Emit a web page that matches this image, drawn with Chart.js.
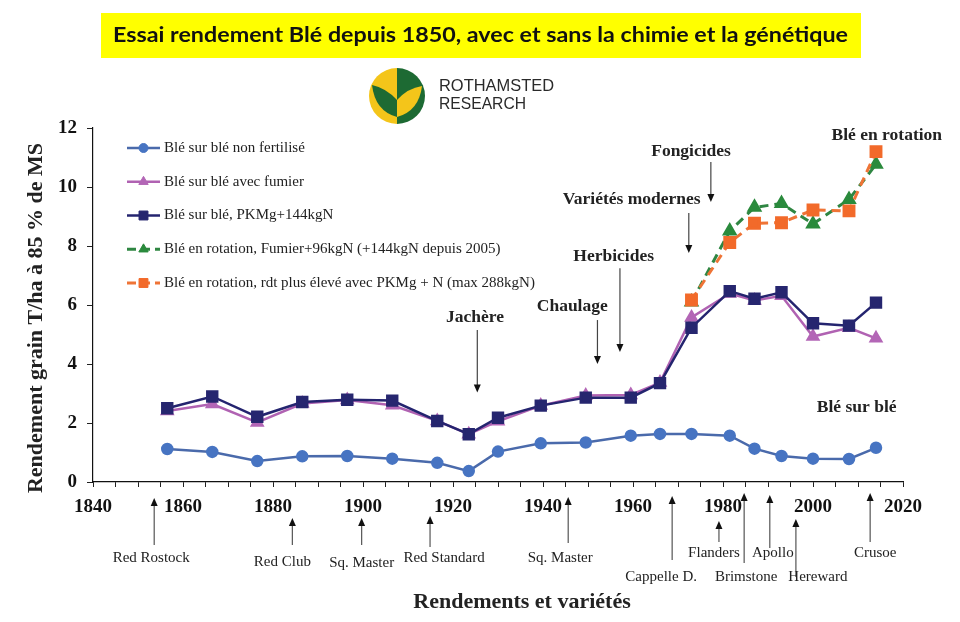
<!DOCTYPE html>
<html><head><meta charset="utf-8">
<script src="https://cdn.jsdelivr.net/npm/chart.js@4.4.1/dist/chart.umd.min.js"></script>
<style>html,body{margin:0;padding:0;background:#fff;}#wrap{width:960px;height:622px;position:relative;}</style>
</head><body><div id="wrap"><canvas id="c" width="960" height="622"></canvas></div>
<script>
// ---------- DATA ----------
const titleText = 'Essai rendement Blé depuis 1850, avec et sans la chimie et la génétique';
const seriesNames = [
  'Blé sur blé non fertilisé',
  'Blé sur blé avec fumier',
  'Blé sur blé, PKMg+144kgN',
  'Blé en rotation, Fumier+96kgN (+144kgN depuis 2005)',
  'Blé en rotation, rdt plus élevé avec PKMg + N (max 288kgN)'
];
const yearsBB = [1856.5,1866.5,1876.5,1886.5,1896.5,1906.5,1916.5,1923.5,1930,1939.5,1949.5,1959.5,1966,1973,1981.5,1987,1993,2000,2008,2014];
const nonFertilise = [1.12,1.02,0.71,0.87,0.88,0.79,0.65,0.37,1.03,1.31,1.34,1.57,1.63,1.63,1.57,1.13,0.88,0.79,0.78,1.16];
const avecFumier   = [2.41,2.64,2.02,2.66,2.78,2.60,2.07,1.62,2.06,2.59,2.93,2.95,3.37,5.58,6.39,6.15,6.31,4.93,5.23,4.87];
const pkmgN        = [2.50,2.90,2.21,2.71,2.79,2.76,2.07,1.62,2.18,2.59,2.86,2.86,3.35,5.23,6.47,6.21,6.43,5.38,5.30,6.08];
const yearsRot = [1973,1981.5,1987,1993,2000,2008,2014];
const rotFumierN = [6.10,8.51,9.31,9.44,8.75,9.58,10.77];
const rotPKMgN   = [6.17,8.12,8.77,8.79,9.22,9.19,11.20];
const xMin = 1840, xMax = 2020, xMajor = 20, xMinor = 5;
const yMin = 0, yMax = 12, yStep = 2;
const xTitle = 'Rendements et variétés';
const yTitle = 'Rendement grain T/ha à 85 % de MS';
// annotations with down arrows: label, year of arrow, arrow start value, arrow end value
const eventNames  = ['Jachère','Chaulage','Herbicides','Variétés modernes','Fongicides'];
const eventYears  = [1925.4,1952.1,1957.1,1972.4,1977.3];
const eventFrom   = [5.15,5.49,7.25,9.12,10.85];
const eventTo     = [3.03,4.00,4.41,7.76,9.49];
// text positions for the events (year, value)
const eventLabelYear = [1924.9,1946.5,1955.7,1959.7,1972.9];
const eventLabelVal  = [5.58,5.95,7.64,9.56,11.20];
const groupNames = ['Blé en rotation','Blé sur blé'];
const groupYear  = [2016.4,2009.7];
const groupVal   = [11.76,2.52];
// varieties (up arrows below the axis)
const varietyNames = ['Red Rostock','Red Club','Sq. Master','Red Standard','Sq. Master','Cappelle D.','Flanders','Brimstone','Apollo','Hereward','Crusoe'];
const varietyYears = [1853.6,1884.3,1899.7,1914.9,1945.6,1968.7,1979.1,1984.7,1990.4,1996.2,2012.7];
// layout of variety arrows in pixels: tip y, base y, label dx, label y
const varietyLayout = [
  [498,545,-3,558],[518,545,-10,562],[518,545,0,563],[516,547,14,558],[497,543,-8,558],
  [496,560,-11,577],[521,542,-5,553],[493,563,2,577],[495,548,3,553],[519,577,22,577],[493,542,5,553]
];

// ---------- STYLES ----------
const SERIF = '"Liberation Serif","Times New Roman",serif';
const colors = {
  blue:'#4a6aab', blueP:'#4774c2',
  pink:'#b062b2', pinkP:'#b366b6',
  navy:'#24246f', navyP:'#26266f',
  green:'#2f8642', greenP:'#2a8a3c',
  orange:'#ef7436', orangeP:'#f26a2a'
};
const mk = (xs, ys) => xs.map((x,i)=>({x, y: ys[i]}));

const datasets = [
  {label:seriesNames[0], data:mk(yearsBB,nonFertilise), borderColor:colors.blue, backgroundColor:colors.blueP,
   pointBackgroundColor:colors.blueP, pointBorderColor:colors.blueP, pointStyle:'circle', pointRadius:5, borderWidth:2.5, order:5},
  {label:seriesNames[1], data:mk(yearsBB,avecFumier), borderColor:colors.pink, backgroundColor:colors.pinkP,
   pointBackgroundColor:colors.pinkP, pointBorderColor:colors.pinkP, pointStyle:'triangle', pointRadius:6, borderWidth:2.5, order:4},
  {label:seriesNames[2], data:mk(yearsBB,pkmgN), borderColor:colors.navy, backgroundColor:colors.navyP,
   pointBackgroundColor:colors.navyP, pointBorderColor:colors.navyP, pointStyle:'rect', pointRadius:7, borderWidth:2.5, order:3},
  {label:seriesNames[3], data:mk(yearsRot,rotFumierN), borderColor:colors.green, backgroundColor:colors.greenP,
   pointBackgroundColor:colors.greenP, pointBorderColor:colors.greenP, pointStyle:'triangle', pointRadius:6, borderWidth:3, borderDash:[9,6], order:2},
  {label:seriesNames[4], data:mk(yearsRot,rotPKMgN), borderColor:colors.orange, backgroundColor:colors.orangeP,
   pointBackgroundColor:colors.orangeP, pointBorderColor:colors.orangeP, pointStyle:'rect', pointRadius:7, borderWidth:3, borderDash:[9,6], order:1}
];

function arrow(ctx, x, y1, y2, lineColor){
  const dir = y2 > y1 ? 1 : -1;
  const hh = 8, hw = 3.5;
  ctx.save();
  ctx.strokeStyle = lineColor || '#555';
  ctx.lineWidth = 1.2;
  ctx.beginPath(); ctx.moveTo(x, y1); ctx.lineTo(x, y2 - dir*hh + dir*1); ctx.stroke();
  ctx.fillStyle = '#111';
  ctx.beginPath(); ctx.moveTo(x, y2); ctx.lineTo(x-hw, y2-dir*hh); ctx.lineTo(x+hw, y2-dir*hh); ctx.closePath(); ctx.fill();
  ctx.restore();
}

function drawLogo(ctx){
  const cx = 397, cy = 96, r = 28;
  const Y = '#f4c51a', G = '#1d6a33';
  ctx.save();
  ctx.beginPath(); ctx.arc(cx,cy,r,Math.PI/2,Math.PI*1.5); ctx.closePath(); ctx.fillStyle=Y; ctx.fill();
  ctx.beginPath(); ctx.arc(cx,cy,r,-Math.PI/2,Math.PI/2); ctx.closePath(); ctx.fillStyle=G; ctx.fill();
  ctx.fillStyle = G;
  ctx.beginPath(); ctx.moveTo(cx-25,cy-11);
  ctx.quadraticCurveTo(cx-22,cy+15,cx,cy+21); ctx.lineTo(cx,cy+4);
  ctx.quadraticCurveTo(cx-11,cy-8,cx-25,cy-11); ctx.fill();
  ctx.fillStyle = Y;
  ctx.beginPath(); ctx.moveTo(cx+25,cy-10);
  ctx.quadraticCurveTo(cx+22,cy+15,cx,cy+21); ctx.lineTo(cx,cy+4);
  ctx.quadraticCurveTo(cx+11,cy-8,cx+25,cy-10); ctx.fill();
  ctx.fillStyle = '#2a2a2a';
  ctx.font = '17px "Liberation Sans",Arial,sans-serif';
  ctx.textBaseline = 'middle'; ctx.textAlign = 'left';
  const w1 = ctx.measureText('ROTHAMSTED').width;
  ctx.save(); ctx.translate(439,86); ctx.scale(115/w1,1); ctx.fillText('ROTHAMSTED',0,0); ctx.restore();
  const w2 = ctx.measureText('RESEARCH').width;
  ctx.save(); ctx.translate(439,104); ctx.scale(87/w2,1); ctx.fillText('RESEARCH',0,0); ctx.restore();
  ctx.restore();
}

const decor = {
  id:'decor',
  beforeDraw(chart){
    const ctx = chart.ctx;
    ctx.save();
    ctx.fillStyle = '#fff'; ctx.fillRect(0,0,chart.width,chart.height);
    ctx.fillStyle = '#ffff00'; ctx.fillRect(101,13,760,45);
    ctx.fillStyle = '#111';
    ctx.font = 'bold 21px Lato, "Open Sans", sans-serif';
    ctx.textBaseline = 'middle'; ctx.textAlign = 'left';
    const tw = ctx.measureText(titleText).width;
    ctx.translate(113,35); ctx.scale(735/tw,1); ctx.fillText(titleText,0,0);
    ctx.restore();
    drawLogo(ctx);
  },
  afterDraw(chart){
    const ctx = chart.ctx, xs = chart.scales.x, ys = chart.scales.y;
    const dp = Chart.helpers && Chart.helpers.drawPoint;
    ctx.save();
    // legend
    const ly0 = 148, lstep = 33.75;
    chart.data.datasets.forEach((ds,i)=>{
      const y = ly0 + i*lstep;
      ctx.save();
      ctx.strokeStyle = ds.borderColor; ctx.lineWidth = ds.borderWidth;
      ctx.setLineDash(ds.borderDash ? [9,5] : []);
      ctx.beginPath(); ctx.moveTo(127,y); ctx.lineTo(160,y); ctx.stroke();
      ctx.setLineDash([]);
      ctx.fillStyle = ds.pointBackgroundColor; ctx.strokeStyle = ds.pointBorderColor; ctx.lineWidth = 1;
      if (dp) dp(ctx,{pointStyle:ds.pointStyle, radius:ds.pointRadius*0.9, rotation:0, borderWidth:1}, 143.5, y);
      ctx.restore();
      ctx.fillStyle = '#222'; ctx.font = '15px '+SERIF; ctx.textBaseline='middle'; ctx.textAlign='left';
      ctx.fillText(ds.label, 164, y);
    });
    // event annotations
    ctx.textAlign='center'; ctx.textBaseline='middle';
    eventNames.forEach((n,i)=>{
      ctx.fillStyle = '#222'; ctx.font = 'bold 17.5px '+SERIF;
      ctx.fillText(n, xs.getPixelForValue(eventLabelYear[i]), ys.getPixelForValue(eventLabelVal[i]));
      const x = xs.getPixelForValue(eventYears[i]);
      arrow(ctx, x, ys.getPixelForValue(eventFrom[i]), ys.getPixelForValue(eventTo[i]), '#444');
    });
    groupNames.forEach((n,i)=>{
      ctx.fillStyle = '#222'; ctx.font = 'bold 17.5px '+SERIF; ctx.textAlign='center'; ctx.textBaseline='middle';
      ctx.fillText(n, xs.getPixelForValue(groupYear[i]), ys.getPixelForValue(groupVal[i]));
    });
    // varieties
    varietyNames.forEach((n,i)=>{
      const x = xs.getPixelForValue(varietyYears[i]);
      const L = varietyLayout[i];
      arrow(ctx, x, L[1], L[0], '#555');
      ctx.fillStyle = '#222'; ctx.font = '15px '+SERIF; ctx.textAlign='center'; ctx.textBaseline='middle';
      ctx.fillText(n, x + L[2], L[3]);
    });
    // axis titles
    ctx.fillStyle = '#222'; ctx.font = 'bold 22px '+SERIF; ctx.textAlign='center'; ctx.textBaseline='middle';
    ctx.fillText(xTitle, 522, 602);
    ctx.save(); ctx.translate(36,318); ctx.rotate(-Math.PI/2);
    ctx.font = 'bold 22px '+SERIF; ctx.fillText(yTitle,0,0); ctx.restore();
    ctx.restore();
  }
};

new Chart(document.getElementById('c'), {
  type:'line',
  data:{datasets},
  options:{
    responsive:false, animation:false, devicePixelRatio:1,
    layout:{padding:{top:128,right:57,bottom:0,left:0}},
    elements:{line:{tension:0}},
    plugins:{legend:{display:false}, tooltip:{enabled:false}},
    scales:{
      x:{type:'linear', min:xMin, max:xMax,
         ticks:{stepSize:xMinor, autoSkip:false, maxRotation:0, maxTicksLimit:100, padding:9,
                font:{family:SERIF, size:19, weight:'bold'}, color:'#111',
                callback:(v)=> (Math.round(v)%xMajor===0 ? String(Math.round(v)) : '')},
         grid:{drawOnChartArea:false, tickLength:5, color:'#222', tickWidth:1},
         border:{color:'#111', width:1.2},
         afterFit:(s)=>{s.height = 140;}},
      y:{min:yMin, max:yMax,
         ticks:{stepSize:yStep, padding:10, font:{family:SERIF, size:19, weight:'bold'}, color:'#111'},
         grid:{drawOnChartArea:false, tickLength:6, color:'#222', tickWidth:1},
         border:{color:'#111', width:1.2},
         afterFit:(s)=>{s.width = 93;}}
    }
  },
  plugins:[decor]
});
</script></body></html>
